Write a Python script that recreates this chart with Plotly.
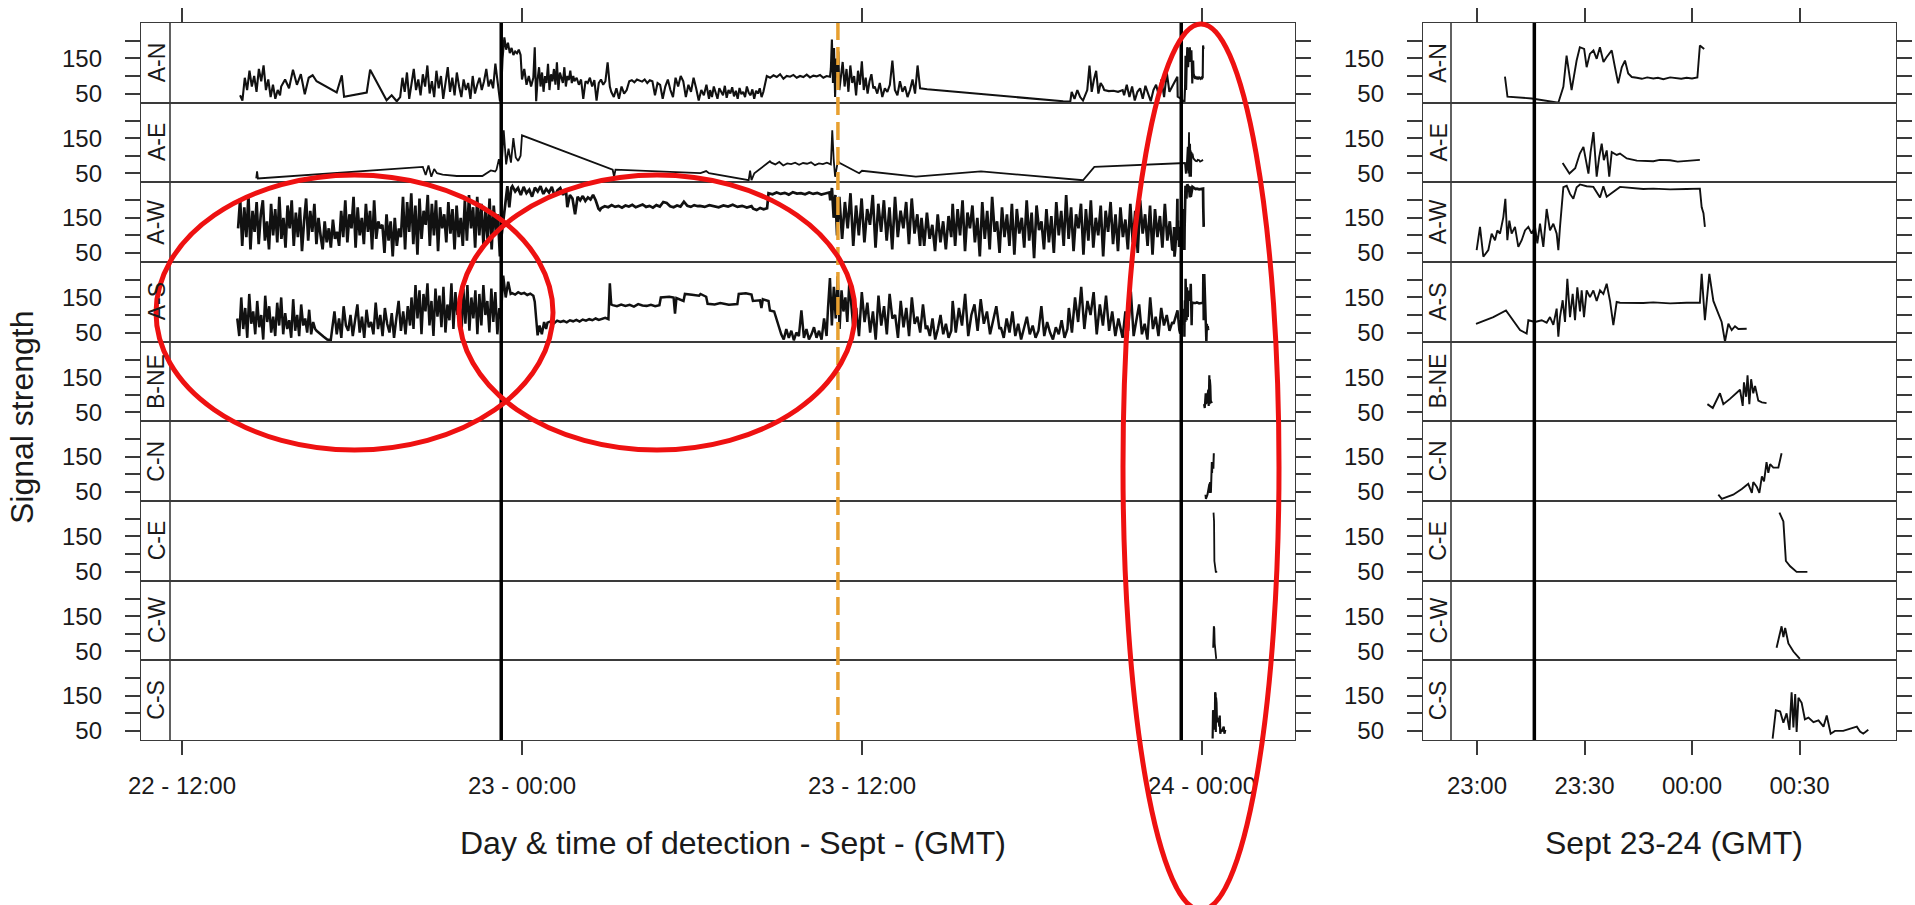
import numpy as np
import plotly.graph_objects as go

# ---------------- DATA ----------------
# Left panel time axis: hours since 22 Sept 00:00 GMT.  Right panel: minutes after 23 Sept 23:00 GMT.
STATIONS = ["A-N", "A-E", "A-W", "A-S", "B-NE", "C-N", "C-E", "C-W", "C-S"]
LEFT_TICK_H = [12, 24, 36, 48]
LEFT_TICK_TEXT = ["22 - 12:00", "23 - 00:00", "23 - 12:00", "24 - 00:00"]
RIGHT_TICK_M = [0, 30, 60, 90]
RIGHT_TICK_TEXT = ["23:00", "23:30", "00:00", "00:30"]
Y_TICKS = [50, 100, 150, 200]
Y_TICK_TEXT = ["50", "", "150", ""]
BLACK_LINES_H = [23.267, 47.267]
BLACK_LINE_M = 16
ORANGE_LINE_H = 35.15

# ---- A-N ----
AN_S1 = [45, 30, 95, 60, 115, 70, 100, 55, 120, 85, 130, 60, 90, 40, 75, 35, 60, 45]
AN_S2 = [70, 90, 65, 118, 75, 105, 48, 95, 102, 85]
AN_P1_T = [17.46, 17.64, 17.72, 18.52, 18.64, 19.22, 19.40, 19.58]
AN_P1_V = [53, 102, 41, 53, 118, 31, 45, 28]
AN_S3 = [40, 95, 55, 110, 35, 80, 120, 60, 90, 45, 105, 70, 130, 50, 85, 40, 115, 65, 100, 35,
         75, 125, 55, 95, 45, 110, 70, 40, 90, 60, 80, 35, 100, 50, 75, 95, 60, 85, 120, 70,
         90, 65, 135, 80, 30]
AN_S4 = [30, 150, 210, 175, 195, 165, 180, 160, 170, 165, 175, 160]
AN_S5 = [90, 120, 75, 100, 70, 95]
AN_P2_T = [24.45, 24.5]
AN_P2_V = [182, 28]
AN_S6 = [90, 125, 70, 110, 55, 100, 80, 135, 60, 105, 85, 120, 75, 139, 60, 110, 95, 80, 125, 70,
         100, 88, 115, 80, 100]
AN_S7 = [85, 95, 75, 90, 35, 85, 80, 95, 70, 88, 30, 80, 90, 75, 85, 139, 70]
AN_S8 = [55, 40, 65, 35, 70, 50, 60, 85, 88, 82, 90, 86, 84, 90, 80, 88, 85, 45, 80, 75,
         35, 70, 90, 60, 40, 95, 70, 100, 85, 40, 75, 55, 95, 65, 30, 60, 45, 75, 35]
AN_S9 = [60, 40, 70, 50, 35, 65, 55, 45, 72, 38, 60, 50, 68, 42, 58, 35, 66, 48, 55, 40,
         70, 52, 45, 62, 35, 58, 50, 65, 40, 55]
AN_S10 = [100, 95, 102, 97, 105, 92, 100, 98, 103, 95, 100, 97, 104, 96, 101, 99, 103, 95, 100, 98]
AN_S11 = [120, 204, 80, 180, 40, 150, 95, 170, 60]
AN_S12 = [90, 140, 70, 120, 55, 130, 80, 100, 45, 115, 75, 142, 60, 95, 50, 85, 105, 65]
AN_S13 = [70, 50, 80, 40, 65, 55, 75, 144, 60, 45, 85, 55, 70, 40, 60, 90, 50, 130, 65]
AN_P3_T = [38.3, 43.1, 43.35]
AN_P3_V = [62, 28, 27]
AN_S14 = [55, 35, 60, 40, 30, 50]
AN_S15 = [60, 130, 55, 90, 115, 50, 80, 70]
AN_S16 = [60, 57, 58, 55, 60]
AN_S17 = [45, 75, 40, 70, 30, 55, 65, 35, 72, 50, 28, 60, 75, 45, 90, 40, 110, 55]
AN_DET_M = [7.8, 8.5, 15.3, 22.7, 24.1, 25.0, 26.4, 27.8, 28.7, 29.9, 30.6, 31.5, 32.5, 33.4, 34.3,
            35.3, 36.2, 37.6, 38.5, 39.4, 40.4, 41.3, 42.2, 43.2, 44.6, 46.0, 47.5, 49.2, 50.5,
            52.0, 53.9, 55.5, 57.0, 58.5, 60.0, 61.5, 62.2, 63.4]
AN_DET_V = [98, 41, 36, 24, 69, 158, 60, 144, 182, 177, 125, 163, 173, 149, 182, 140, 154, 173, 125,
            79, 125, 144, 107, 97, 95, 92, 96, 93, 95, 91, 96, 94, 92, 95, 93, 96, 187, 177]

# ---- A-E ----
AE_P1_T = [14.62, 14.65, 14.68, 20.5, 20.6, 20.7, 20.8, 20.9, 21.0, 21.2, 21.7, 22.6, 22.9, 23.05]
AE_P1_V = [35, 55, 35, 68, 45, 72, 40, 62, 50, 46, 42, 42, 58, 55]
AE_S1 = [60, 90, 55, 172, 75, 120, 80, 150, 95, 85, 100]
AE_P2_T = [24.0, 27.2, 27.25, 27.3, 30.3, 30.5, 30.6, 32.0, 32.05, 32.1, 32.2, 32.75]
AE_P2_V = [158, 60, 40, 60, 50, 56, 50, 30, 57, 30, 50, 84]
AE_S2 = [80, 75, 82, 72, 78, 76, 80, 74, 79, 77, 81, 73, 78, 76, 80, 75]
AE_P3_T = [34.95, 35.0, 35.05, 35.15, 35.2, 35.9, 36.0, 37.9, 40.2, 43.8, 44.2]
AE_P3_V = [172, 90, 40, 85, 80, 50, 57, 40, 55, 30, 68]
AE_DET_M = [23.9, 25.8, 27.4, 28.7, 29.7, 30.6, 31.1, 31.7, 32.5, 33.4, 34.1, 34.8, 35.4, 36.2, 36.9,
            37.6, 39.0, 39.9, 41.8, 44.6, 46.5, 49.2, 51.0, 53.9, 56.0, 58.5, 60.5, 62.2]
AE_DET_V = [79, 49, 64, 106, 125, 68, 49, 110, 167, 40, 96, 134, 87, 115, 40, 110, 102, 106, 92, 86,
            85, 84, 88, 87, 83, 85, 86, 88]

# ---- A-W ----
AW_S1 = [120, 205, 70, 180, 95, 215, 60, 170, 110, 195,
         75, 160, 200, 85, 140, 60, 190, 100, 175, 80,
         210, 90, 150, 65, 185, 120, 200, 70, 165, 95,
         180, 55, 140, 205, 85, 170, 110, 190, 75, 150,
         100, 60, 140, 80, 120, 65, 145, 90, 110, 70,
         170, 95, 200, 80, 160, 120, 210, 65, 180, 100,
         150, 75, 190, 110, 170, 60, 200, 90, 140, 120,
         130, 50, 160, 85, 140, 40, 150, 70, 120, 95,
         210, 60, 195, 110, 220, 75, 185, 45, 205, 90,
         170, 130, 215, 70, 190, 100, 200, 55, 180, 120,
         160, 80, 195, 105, 175, 60, 185, 95, 150, 70,
         200, 85, 215, 120, 180, 65, 210, 100, 190, 75,
         170, 90, 205, 60, 185, 110, 160, 40]
AW_S2 = [100, 150, 200, 240, 180, 235]
AW_S3 = [240, 225, 235, 215, 238, 220, 230, 210, 236, 225, 240, 218, 232, 222, 238, 212, 228, 235, 215, 230]
AW_S4 = [180, 215, 205, 160, 210, 200, 212, 198, 208, 202, 215, 200]
AW_P1_T = [26.7, 26.75]
AW_P1_V = [176, 172]
AW_S5 = [178, 183, 180, 186, 181, 184, 179, 185, 182, 187, 180, 183, 188, 181, 184, 179, 186, 182,
         195, 192, 183, 180, 185, 182, 196, 184, 181, 186, 183]
AW_S6 = [184, 181, 186, 183, 180, 185, 182, 187, 181, 184, 179, 183]
AW_S7 = [176, 172, 178, 174, 177]
AW_S8 = [220, 217, 222, 218, 221, 216, 223, 219, 220, 217, 222, 218, 221, 216, 219, 222]
AW_S9 = [200, 235, 150, 215, 100, 190]
AW_S10 = [210, 90, 195, 120, 220, 70, 185, 100, 205, 80, 175, 130, 215, 65, 190, 110, 200, 85, 180, 60,
          210, 95, 170, 120, 195, 75, 205, 105, 160, 70]
AW_S11 = [150, 70, 165, 90, 130, 55, 160, 80, 140, 60, 155, 95]
AW_S12 = [190, 70, 175, 100, 200, 55, 165, 120, 185, 80,
          150, 40, 195, 90, 170, 60, 210, 110, 140, 50,
          180, 95, 160, 70, 190, 45, 175, 105, 150, 65,
          200, 85, 165, 35, 185, 115, 140, 60, 175, 80,
          155, 50, 195, 100, 170, 70, 215, 90, 180, 55,
          160, 120, 190, 45, 175, 85, 200, 65, 150, 100,
          185, 40, 170, 110, 195, 75, 160, 55, 180, 95,
          145, 60, 190, 80, 170, 50, 200, 105, 160, 70,
          185, 45, 175, 95, 155, 65, 190, 85, 140, 60]
AW_DET_M = [-0.1, 0.84, 1.77, 3.16, 4.09, 5.02, 5.67, 6.42, 7.35, 7.91, 8.47, 9.02, 9.67, 10.6, 11.53,
            12.47, 13.4, 14.33, 15.26, 16.19, 16.84, 17.58, 18.51, 19.44, 20.37, 21.3, 22.23, 22.7,
            23.16, 24.1, 25.03, 25.96, 26.88, 27.82, 28.75, 30.6, 32.47, 34.33, 35.26, 36.19, 39.91,
            46.4, 49.2, 53.9, 58.5, 62.2, 62.7, 63.2, 63.6]
AW_DET_V = [58, 124, 39, 58, 105, 86, 114, 105, 152, 204, 86, 142, 105, 124, 67, 86, 114, 124, 105,
            124, 77, 133, 67, 175, 114, 133, 105, 58, 124, 237, 241, 218, 204, 237, 245, 240, 238, 208,
            240, 210, 238, 232, 233, 231, 232, 233, 180, 163, 124]

# ---- A-S ----
AS_S1 = [90, 40, 150, 60, 120, 35, 160, 75, 110, 45,
         140, 65, 100, 30, 155, 80, 125, 50, 95, 40,
         135, 70, 150, 45, 105, 60, 85, 35, 145, 55,
         100, 40, 130, 70, 90, 50, 115, 45, 80, 60]
AS_S2 = [55, 45, 38, 30, 28]
AS_S3 = [60, 110, 45, 90, 35, 125, 70, 55, 100, 40,
         85, 130, 50, 95, 35, 115, 65, 80, 45, 135,
         60, 100, 40, 120, 75, 50, 105, 35, 90, 140,
         55, 110, 45, 125, 70]
AS_S4 = [150, 60, 185, 90, 170, 45, 160, 110, 190, 70,
         140, 40, 175, 95, 155, 65, 180, 50, 130, 85,
         190, 60, 165, 100, 145, 40, 175, 75, 185, 55,
         150, 90, 170, 45, 160, 70, 185, 100, 140, 50,
         175, 80, 165, 45, 120]
AS_S5 = [90, 212, 150, 195, 160]
AS_S6 = [162, 158, 165, 160, 163, 157, 161, 155]
AS_P1_T = [24.45, 24.5, 24.55, 24.62, 24.7, 24.78, 24.85]
AS_P1_V = [138, 90, 42, 70, 45, 80, 60]
AS_S7 = [78, 82, 76, 84, 80, 83, 79, 85, 82, 86, 81, 87, 84, 88, 85, 90, 86, 89, 92, 88]
AS_P2_T = [27.1, 27.15]
AS_P2_V = [190, 130]
AS_S8 = [128, 125, 130, 126, 129, 124, 131, 127, 126, 129, 125, 128]
AS_P3_T = [28.9, 29.2, 29.35, 29.4, 29.45, 29.7, 29.75, 30.0, 30.25, 30.3, 30.5, 30.55, 30.8, 31.0, 31.3,
           31.6, 31.65, 31.9, 32.1, 32.15, 32.4, 32.45, 32.5, 32.7, 32.75, 32.9, 33.0, 33.1]
AS_P3_V = [150, 152, 150, 104, 148, 140, 160, 158, 155, 160, 152, 132, 130, 134, 129,
           131, 160, 162, 158, 140, 142, 120, 145, 140, 113, 110, 85, 60]
AS_S9 = [45, 30, 60, 35, 55, 28, 50, 40, 113, 35, 60, 30, 45, 65, 35, 55, 30, 90, 40]
AS_S10 = [120, 205, 70, 180, 90, 210, 60, 170, 110, 150, 80, 190]
AS_S11 = [150, 60, 120, 40, 165, 80, 135, 50, 110, 30, 155, 70, 125, 45, 160, 90, 100, 35, 140, 65,
          120, 40, 150, 75, 95, 50, 130, 60]
AS_S12 = [70, 40, 90, 30, 60, 100, 45, 75, 35, 55]
AS_S13 = [140, 50, 120, 70, 160, 40, 100, 130, 55, 145, 75, 110, 45, 90, 125, 60]
AS_S14 = [65, 35, 90, 50, 110, 40, 75, 30, 60, 95, 45, 70, 35, 55, 125, 40, 80, 50, 30, 65,
          45, 85, 35, 60]
AS_S15 = [120, 50, 150, 80, 180, 60, 140, 100, 165, 45, 130, 70, 155, 55, 110, 40, 90]
AS_S16 = [70, 35, 110, 55, 167, 40, 85, 130, 45, 75, 30, 150, 60, 95, 40, 120, 70, 100, 55, 80]
AS_DET_M = [-0.28, 4.56, 8.09, 12.0, 13.86, 14.33, 16.19, 18.05, 19.44, 20.37, 21.3, 22.23, 22.7, 23.16,
            23.91, 24.56, 25.21, 25.96, 26.7, 27.35, 28.0, 28.75, 29.21, 29.86, 30.6, 31.53, 32.47,
            33.4, 34.33, 35.26, 36.19, 37.12, 38.05, 38.98, 39.91, 46.4, 49.2, 53.9, 58.5, 62.2, 62.7,
            63.6, 64.84, 65.96, 67.35, 68.28, 69.21, 70.15, 71.08, 72.0, 72.94, 73.87, 75.26]
AS_DET_V = [75, 94, 113, 57, 47, 85, 80, 85, 78, 94, 72, 118, 38, 94, 142, 80, 203, 94, 160, 85, 179,
            110, 170, 94, 170, 151, 170, 140, 170, 160, 189, 140, 71, 137, 135, 134, 136, 133, 135,
            135, 217, 85, 217, 140, 104, 80, 24, 75, 57, 68, 60, 61, 61]

# ---- B / C stations (only around midnight 23-24 Sept) ----
BNE_M = [64.3, 65.8, 67.8, 68.75, 70.6, 73.4, 74.15, 74.5, 75.1, 75.5, 76.0, 76.5, 77.1, 77.6, 78.5, 79.5, 80.8]
BNE_V = [73, 62, 104, 73, 88, 114, 68, 135, 94, 155, 73, 144, 104, 125, 83, 78, 76]
CN_M = [67.35, 68.3, 71.5, 73.9, 75.7, 76.7, 77.1, 78.05, 78.8, 79.5, 80.1, 80.8, 81.3, 81.8, 82.7, 84.1, 85.0]
CN_V = [42, 30, 42, 58, 73, 47, 78, 65, 47, 94, 80, 135, 104, 129, 119, 119, 160]
CE_M = [84.4, 85.5, 86.2, 87.4, 89.2, 92.2]
CE_V = [218, 193, 80, 65, 49, 49]
CW_M = [83.6, 84.4, 85.0, 85.5, 86.0, 86.9, 88.3, 90.1]
CW_V = [60, 101, 121, 90, 116, 72, 49, 28]
CS_M = [82.5, 83.4, 84.6, 85.5, 86.4, 87.2, 87.8, 88.3, 88.8, 89.2, 89.7, 90.6, 91.5, 92.5, 93.9, 95.3,
        96.7, 97.6, 98.7, 99.9, 102.2, 106.0, 106.9, 107.8, 109.2]
CS_V = [28, 109, 105, 73, 100, 53, 160, 60, 155, 47, 144, 130, 83, 88, 75, 80, 62, 94, 42, 50, 50, 62,
        48, 42, 53]


# ---------------- BUILD SERIES ----------------
def dense(t0, t1, vals):
    return list(np.linspace(t0, t1, len(vals))), list(vals)


def build(parts):
    ts, vs = [], []
    for t, v in parts:
        ts += list(t)
        vs += list(v)
    return ts, vs


def det_to_h(mins):
    return [47 + m / 60.0 for m in mins]


AN = build([dense(14.05, 15.46, AN_S1), dense(15.5, 16.75, AN_S2), (AN_P1_T, AN_P1_V),
            dense(19.70, 23.22, AN_S3), dense(23.25, 23.95, AN_S4), dense(24.0, 24.4, AN_S5),
            (AN_P2_T, AN_P2_V), dense(24.55, 25.81, AN_S6), dense(25.85, 27.1, AN_S7),
            dense(27.15, 30.6, AN_S8), dense(30.64, 32.52, AN_S9), dense(32.64, 34.87, AN_S10),
            dense(34.9, 35.2, AN_S11), dense(35.25, 36.4, AN_S12), dense(36.45, 38.05, AN_S13),
            (AN_P3_T, AN_P3_V), dense(43.4, 43.9, AN_S14), dense(43.95, 44.5, AN_S15),
            dense(44.55, 45.2, AN_S16), dense(45.25, 46.85, AN_S17), (det_to_h(AN_DET_M), AN_DET_V)])
AE = build([(AE_P1_T, AE_P1_V), dense(23.1, 23.95, AE_S1), (AE_P2_T, AE_P2_V),
            dense(32.8, 34.9, AE_S2), (AE_P3_T, AE_P3_V), (det_to_h(AE_DET_M), AE_DET_V)])
AW = build([dense(13.98, 23.22, AW_S1), dense(23.28, 23.62, AW_S2), dense(23.66, 25.55, AW_S3),
            dense(25.6, 26.6, AW_S4), (AW_P1_T, AW_P1_V), dense(26.8, 30.2, AW_S5),
            dense(30.28, 32.1, AW_S6), dense(32.16, 32.65, AW_S7), dense(32.7, 34.85, AW_S8),
            dense(34.88, 35.18, AW_S9), dense(35.2, 38.05, AW_S10), dense(38.1, 39.15, AW_S11),
            dense(39.2, 46.95, AW_S12), (det_to_h(AW_DET_M), AW_DET_V)])
AS = build([dense(13.95, 16.7, AS_S1), dense(16.75, 17.25, AS_S2), dense(17.3, 20.05, AS_S3),
            dense(20.1, 23.2, AS_S4), dense(23.25, 23.6, AS_S5), dense(23.65, 24.4, AS_S6),
            (AS_P1_T, AS_P1_V), dense(24.9, 27.05, AS_S7), (AS_P2_T, AS_P2_V),
            dense(27.2, 28.85, AS_S8), (AS_P3_T, AS_P3_V), dense(33.15, 34.75, AS_S9),
            dense(34.8, 35.55, AS_S10), dense(35.6, 38.25, AS_S11), dense(38.3, 39.15, AS_S12),
            dense(39.2, 40.85, AS_S13), dense(40.9, 43.25, AS_S14), dense(43.3, 45.05, AS_S15),
            dense(45.1, 46.95, AS_S16), (det_to_h(AS_DET_M), AS_DET_V)])

LEFT_SERIES = [AN, AE, AW, AS,
               (det_to_h(BNE_M), BNE_V), (det_to_h(CN_M), CN_V), (det_to_h(CE_M), CE_V),
               (det_to_h(CW_M), CW_V), (det_to_h(CS_M), CS_V)]
RIGHT_SERIES = [(AN_DET_M, AN_DET_V), (AE_DET_M, AE_DET_V), (AW_DET_M, AW_DET_V), (AS_DET_M, AS_DET_V),
                (BNE_M, BNE_V), (CN_M, CN_V), (CE_M, CE_V), (CW_M, CW_V), (CS_M, CS_V)]
LEFT_WIDTHS = [2.1, 1.8, 2.7, 2.5, 2.2, 2.0, 1.8, 1.8, 2.2]

# ---------------- LAYOUT ----------------
W, H = 1915, 905
FONT = "Liberation Sans, Arial, Helvetica, sans-serif"
TXT = "#1a1a1a"
LINE = "#3a3a3a"


def px(x):
    return x / W


def py(y):
    return 1 - y / H


TOP, BOT = 23.0, 740.0
ROW_H = (BOT - TOP) / 9
L_BOX = (141, 1295)
L_STRIP = 170
R_BOX = (1423, 1896)
R_STRIP = 1451
L_RANGE = [10.553, 51.282]
R_RANGE = [-15.07, 116.93]
Y_RANGE = [24, 251]

fig = go.Figure()
layout = dict(width=W, height=H, margin=dict(l=0, r=0, t=0, b=0, pad=0, autoexpand=False),
              template="none",
              paper_bgcolor="white", plot_bgcolor="white", showlegend=False,
              font=dict(family=FONT, color=TXT))

for r in range(9):
    ytop = TOP + r * ROW_H
    ybot = ytop + ROW_H
    for c in range(2):
        idx = r * 2 + c + 1
        xs, ys = (LEFT_SERIES if c == 0 else RIGHT_SERIES)[r]
        lw = LEFT_WIDTHS[r] if c == 0 else 1.9
        fig.add_trace(go.Scatter(x=xs, y=ys, mode="lines", xaxis=f"x{idx}", yaxis=f"y{idx}",
                                 line=dict(color="#111111", width=lw), hoverinfo="skip"))
        box = L_BOX if c == 0 else R_BOX
        xa = dict(domain=[px(box[0]), px(box[1])], anchor=f"y{idx}", automargin=False,
                  range=L_RANGE if c == 0 else R_RANGE,
                  tickvals=LEFT_TICK_H if c == 0 else RIGHT_TICK_M,
                  ticktext=LEFT_TICK_TEXT if c == 0 else RIGHT_TICK_TEXT,
                  showline=True, mirror=True, linecolor=LINE, linewidth=1.3,
                  showgrid=False, zeroline=False,
                  ticks="outside" if r in (0, 8) else "", ticklen=14, tickwidth=1.6, tickcolor=LINE,
                  side="top" if r == 0 else "bottom", showticklabels=(r == 8),
                  tickfont=dict(size=24, color=TXT, family=FONT), ticklabelstandoff=10)
        ya = dict(domain=[py(ybot), py(ytop)], anchor=f"x{idx}", range=Y_RANGE, automargin=False,
                  tickvals=Y_TICKS, ticktext=Y_TICK_TEXT,
                  showline=True, mirror="ticks", linecolor=LINE, linewidth=1.3,
                  showgrid=False, zeroline=False,
                  ticks="outside", ticklen=15, tickwidth=2, tickcolor=LINE,
                  tickfont=dict(size=24, color=TXT, family=FONT), ticklabelstandoff=18)
        layout["xaxis" if idx == 1 else f"xaxis{idx}"] = xa
        layout["yaxis" if idx == 1 else f"yaxis{idx}"] = ya

shapes = []
annotations = []
# strip columns
for sx, bx in ((L_STRIP, L_BOX[0]), (R_STRIP, R_BOX[0])):
    shapes.append(dict(type="line", xref="paper", yref="paper", x0=px(sx), x1=px(sx),
                       y0=py(BOT), y1=py(TOP), line=dict(color=LINE, width=1.6)))
    for r, name in enumerate(STATIONS):
        annotations.append(dict(text=name, xref="paper", yref="paper",
                                x=px((sx + bx) / 2 + 1), y=py(TOP + (r + 0.5) * ROW_H),
                                showarrow=False, textangle=-90, xanchor="center", yanchor="middle",
                                font=dict(size=23, color=TXT, family=FONT)))
# reference lines
for h in BLACK_LINES_H:
    shapes.append(dict(type="line", xref="x", yref="paper", x0=h, x1=h, y0=py(BOT), y1=py(TOP),
                       line=dict(color="#000000", width=3.5)))
shapes.append(dict(type="line", xref="x2", yref="paper", x0=BLACK_LINE_M, x1=BLACK_LINE_M,
                   y0=py(BOT), y1=py(TOP), line=dict(color="#000000", width=3.5)))
shapes.append(dict(type="line", xref="x", yref="paper", x0=ORANGE_LINE_H, x1=ORANGE_LINE_H,
                   y0=py(BOT), y1=py(TOP), line=dict(color="#E8A030", width=3.5, dash="18px,7px")))
# red highlight ellipses
for (x0, y0, x1, y1) in ((156, 175, 553, 450), (459, 175, 855, 450), (1123, 24, 1279, 910)):
    shapes.append(dict(type="circle", xref="paper", yref="paper", x0=px(x0), x1=px(x1),
                       y0=py(y1), y1=py(y0), line=dict(color="#EE1111", width=5)))

# axis titles
annotations.append(dict(text="Signal strength", xref="paper", yref="paper", x=px(22), y=py(418),
                        xanchor="center", yanchor="middle",
                        showarrow=False, textangle=-90, font=dict(size=32, color=TXT, family=FONT)))
annotations.append(dict(text="Day & time of detection - Sept - (GMT)", xref="paper", yref="paper",
                        x=px((L_STRIP + L_BOX[1]) / 2), y=py(843), xanchor="center", yanchor="middle",
                        showarrow=False, font=dict(size=32, color=TXT, family=FONT)))
annotations.append(dict(text="Sept 23-24 (GMT)", xref="paper", yref="paper",
                        x=px((R_STRIP + R_BOX[1]) / 2), y=py(843), xanchor="center", yanchor="middle",
                        showarrow=False, font=dict(size=32, color=TXT, family=FONT)))

layout["shapes"] = shapes
layout["annotations"] = annotations
fig.update_layout(**layout)

fig.write_html("out.html", config={"displayModeBar": False},
               post_script="document.body.style.margin='0';document.body.style.overflow='hidden';")
